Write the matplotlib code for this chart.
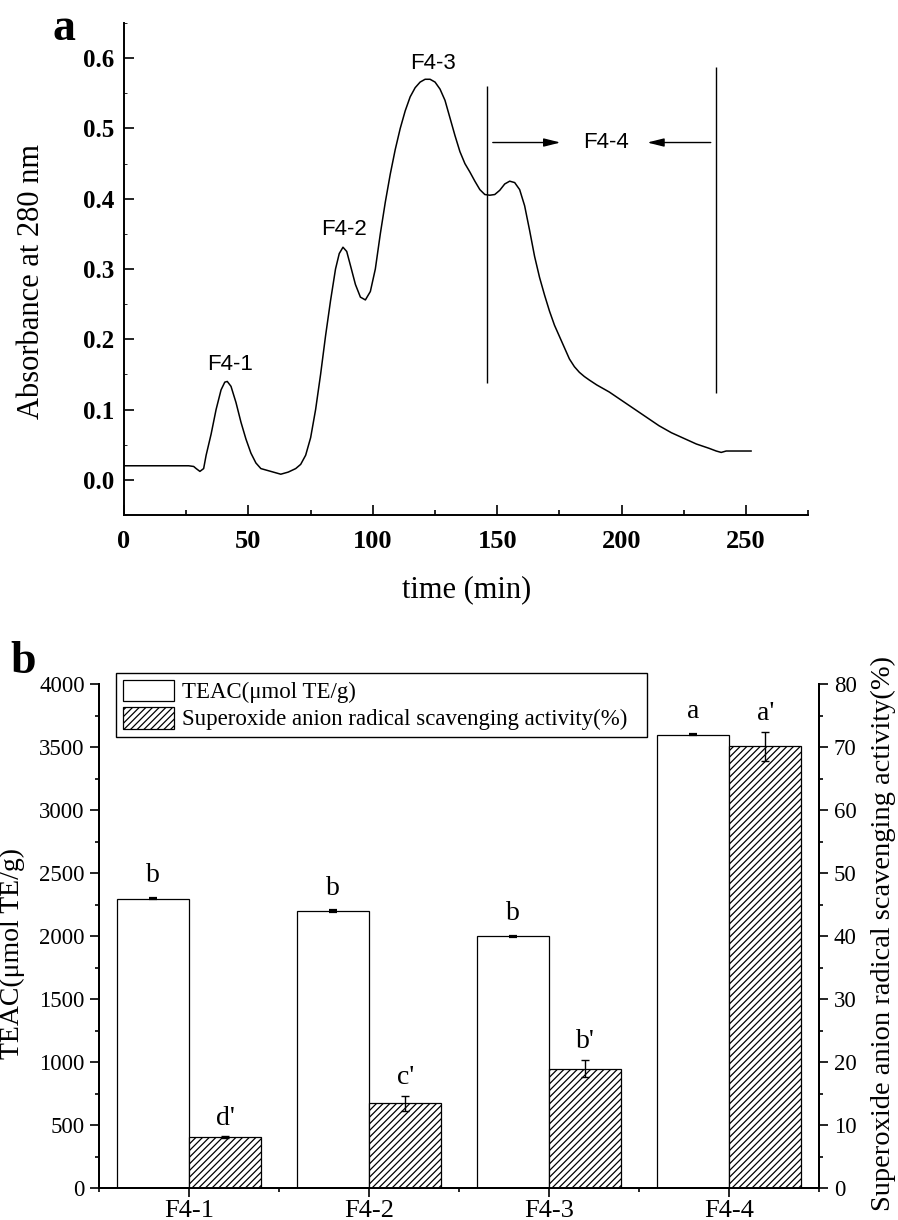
import numpy as np
import matplotlib
matplotlib.use("Agg")
import matplotlib.pyplot as plt
from matplotlib.ticker import MultipleLocator
from matplotlib.patches import Patch

plt.rcParams['font.family'] = ['Liberation Serif', 'DejaVu Serif']
plt.rcParams['hatch.linewidth'] = 0.9

# ---- panel a: elution profile
time_min = [0, 26, 28, 29, 30.5, 32, 33, 35, 37, 39, 40.5, 41.5, 43, 45, 47, 49, 51,
            53, 55, 58, 61, 63, 66, 69, 71, 73, 75, 77, 79, 81, 83, 85, 86.5, 88,
            89.5, 91, 93, 95, 97, 99, 101, 103, 105, 107, 109, 111, 113, 115, 117,
            119, 121, 123, 125, 127, 129, 131, 133, 135, 137, 139, 141, 143, 145,
            147, 149, 151, 153, 155, 157, 159, 161, 163, 165, 167, 169, 171, 173,
            175, 177, 179, 181, 183, 185, 187, 190, 195, 200, 205, 210, 215, 220,
            225, 230, 235, 238, 240, 242, 252]
absorbance = [0.020, 0.020, 0.019, 0.016, 0.012, 0.016, 0.035, 0.065, 0.100, 0.128,
              0.139, 0.140, 0.133, 0.110, 0.082, 0.058, 0.038, 0.024, 0.016, 0.013,
              0.010, 0.008, 0.011, 0.016, 0.022, 0.035, 0.060, 0.100, 0.150, 0.205,
              0.255, 0.300, 0.322, 0.331, 0.325, 0.305, 0.278, 0.260, 0.256, 0.268,
              0.300, 0.350, 0.395, 0.435, 0.470, 0.500, 0.525, 0.545, 0.558, 0.566,
              0.570, 0.570, 0.566, 0.556, 0.540, 0.515, 0.490, 0.467, 0.450, 0.438,
              0.425, 0.413, 0.406, 0.405, 0.406, 0.412, 0.421, 0.425, 0.423, 0.413,
              0.390, 0.355, 0.318, 0.288, 0.263, 0.240, 0.220, 0.204, 0.188, 0.172,
              0.161, 0.153, 0.147, 0.142, 0.135, 0.125, 0.113, 0.101, 0.089, 0.077,
              0.067, 0.059, 0.051, 0.045, 0.041, 0.039, 0.041, 0.041]

peak_names = ['F4-1', 'F4-2', 'F4-3']
peak_label_x = [42.7, 88.3, 124.3]
peak_label_y = [0.164, 0.356, 0.593]

cut_x = [145.9, 238.1]
cut_ymin = [0.138, 0.123]
cut_ymax = [0.561, 0.588]

# ---- panel b: activities of the fractions
fractions = ['F4-1', 'F4-2', 'F4-3', 'F4-4']
teac = [2300, 2200, 2000, 3600]
teac_err = [5, 5, 5, 5]
teac_letters = ['b', 'b', 'b', 'a']
superoxide = [8.1, 13.5, 19.0, 70.2]
superoxide_err = [0.15, 1.2, 1.4, 2.3]
superoxide_letters = ["d'", "c'", "b'", "a'"]

fig = plt.figure(figsize=(8.98, 12.20), dpi=100)

# ================= panel a
ax = fig.add_axes([0.1381, 0.5779, 0.9001 - 0.1381, 0.9811 - 0.5779])
ax.plot(time_min, absorbance, color='black', lw=1.1)
ax.vlines(cut_x, cut_ymin, cut_ymax, color='black', lw=1.0)

sans = ['Liberation Sans', 'DejaVu Sans']
for name, tx, ty in zip(peak_names, peak_label_x, peak_label_y):
    ax.text(tx, ty, name, ha='center', va='center', fontsize=16, family=sans)

arrow_y = 0.480
head = dict(arrowstyle='-|>,head_length=1.0,head_width=0.25', mutation_scale=10,
            lw=1.0, color='black', shrinkA=0, shrinkB=0)
ax.annotate('', xy=(175.4, arrow_y), xytext=(148.2, arrow_y), arrowprops=head)
ax.annotate('', xy=(210.3, arrow_y), xytext=(235.8, arrow_y), arrowprops=head)
ax.text(193.6, arrow_y, 'F4-4', ha='center', va='center', fontsize=16, family=sans)

ax.set_xlim(0, 275)
ax.set_ylim(-0.05, 0.65)
xt = [0, 50, 100, 150, 200, 250]
yt = [0.0, 0.1, 0.2, 0.3, 0.4, 0.5, 0.6]
ax.set_xticks(xt, [str(v) for v in xt], fontweight='bold', fontsize=19)
ax.set_yticks(yt, ['%.1f' % v for v in yt], fontweight='bold', fontsize=18)
ax.xaxis.set_minor_locator(MultipleLocator(25))
ax.yaxis.set_minor_locator(MultipleLocator(0.05))
ax.tick_params(which='both', direction='in', width=1.2)
ax.tick_params(which='major', length=7)
ax.tick_params(which='minor', length=3.5)
ax.tick_params(axis='x', pad=11)
ax.tick_params(axis='y', pad=7)
ax.tick_params(axis='y', which='minor', length=2, width=0.6)
for s in ['top', 'right']:
    ax.spines[s].set_visible(False)
for s in ['left', 'bottom']:
    ax.spines[s].set_linewidth(1.4)

ax.set_xlabel('time (min)', fontsize=22)
ax.xaxis.set_label_coords(0.5, -0.122)
ax.set_ylabel('Absorbance at 280 nm', fontsize=22)
ax.yaxis.set_label_coords(-0.114, 0.474)

fig.text(0.058, 1 - 40 / 1220, 'a', fontsize=33, fontweight='bold', ha='left', va='baseline')

# ================= panel b
bx = fig.add_axes([0.1106, 0.02598, 0.9123 - 0.1106, 0.4391 - 0.02598])
bx2 = bx.twinx()
pos = np.arange(1, len(fractions) + 1)
w = 0.4

bx.bar(pos - w / 2, teac, w, yerr=teac_err, color='white', edgecolor='black',
       lw=0.9, capsize=3, error_kw=dict(lw=1.0, capthick=1.6))
bx2.bar(pos + w / 2, superoxide, w, yerr=superoxide_err, color='white',
        edgecolor='black', hatch='/////', lw=0.9, capsize=3,
        error_kw=dict(lw=1.0, capthick=1.0))

for xp, v, e, lab in zip(pos - w / 2, teac, teac_err, teac_letters):
    bx.annotate(lab, (xp, v + e), xytext=(0, 7), textcoords='offset points',
                ha='center', va='bottom', fontsize=20)
for xp, v, e, lab in zip(pos + w / 2, superoxide, superoxide_err, superoxide_letters):
    bx2.annotate(lab, (xp, v + e), xytext=(0, 4), textcoords='offset points',
                 ha='center', va='bottom', fontsize=20)

bx.set_xlim(0.5, 4.5)
bx.set_ylim(0, 4000)
bx2.set_ylim(0, 80)
bx.set_xticks(pos, fractions)
bx.set_xticks(np.arange(0.5, 4.6, 1.0), minor=True)
bx.yaxis.set_major_locator(MultipleLocator(500))
bx.yaxis.set_minor_locator(MultipleLocator(250))
bx2.yaxis.set_major_locator(MultipleLocator(10))
bx2.yaxis.set_minor_locator(MultipleLocator(5))
for a in (bx, bx2):
    a.tick_params(which='both', direction='out', width=1.2, labelsize=16.5)
    a.tick_params(which='major', length=6.5)
    a.tick_params(which='minor', length=3.2)
    a.spines['top'].set_visible(False)
    for s in ['left', 'right', 'bottom']:
        a.spines[s].set_linewidth(1.4)
bx.tick_params(axis='x', labelsize=19, pad=2)
bx.tick_params(axis='y', pad=4)
bx2.tick_params(axis='y', pad=4)

bx.set_ylabel('TEAC(μmol TE/g)', fontsize=20)
bx.yaxis.set_label_coords(-0.103, 0.465)
bx2.set_ylabel('Superoxide anion radical scavenging activity(%)', fontsize=20.5)
bx2.yaxis.set_label_coords(1.072, 0.505)

handles = [Patch(facecolor='white', edgecolor='black', lw=0.9),
           Patch(facecolor='white', edgecolor='black', hatch='/////', lw=0.9)]
leg_box = (115.7 / 898, 1 - 735 / 1220, (647.3 - 115.7) / 898, 62.3 / 1220)
leg = bx2.legend(handles, ['TEAC(μmol TE/g)', 'Superoxide anion radical scavenging activity(%)'],
                 loc='upper left', bbox_to_anchor=leg_box, mode='expand',
                 bbox_transform=fig.transFigure, fontsize=16.5, frameon=True,
                 fancybox=False, edgecolor='black', framealpha=1, borderpad=0.3,
                 labelspacing=0.15, handlelength=2.23, handleheight=1.09,
                 handletextpad=0.35, borderaxespad=0)
leg.get_frame().set_linewidth(1.0)

fig.text(0.012, 1 - 673 / 1220, 'b', fontsize=33, fontweight='bold', ha='left', va='baseline')

fig.savefig('out.png', dpi=100)
